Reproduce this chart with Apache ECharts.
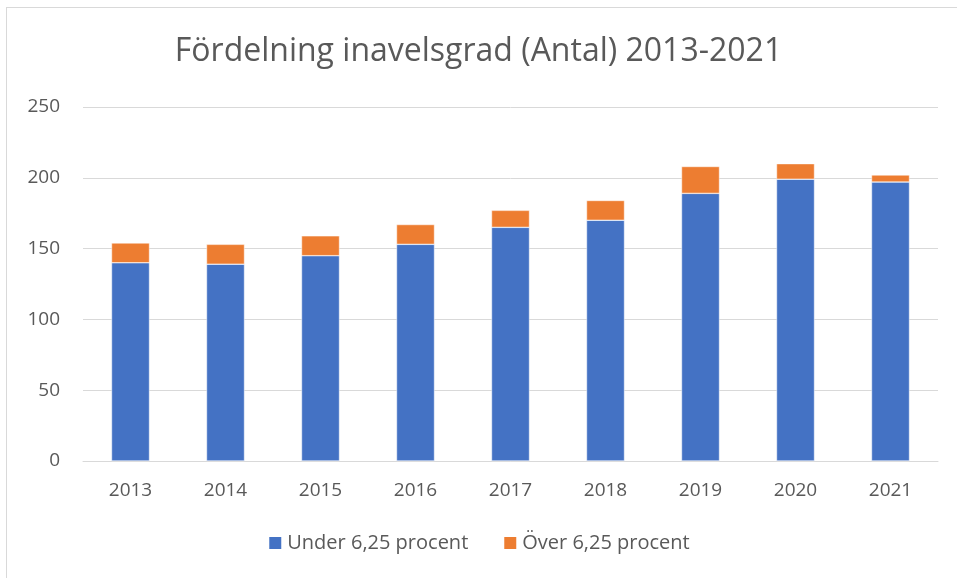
<!DOCTYPE html>
<html>
<head>
<meta charset="utf-8">
<script src="https://cdn.jsdelivr.net/npm/echarts@6/dist/echarts.min.js"></script>
<style>
html,body{margin:0;padding:0;background:#fff;}
#frame{position:absolute;left:6px;top:7px;width:960px;height:580px;border:1px solid #d9d9d9;box-sizing:border-box;}
#main{position:absolute;left:0;top:0;width:957px;height:578px;}
</style>
</head>
<body>
<div id="frame"></div>
<div id="main"></div>
<script>
// data
var years = ['2013','2014','2015','2016','2017','2018','2019','2020','2021'];
var under = [140, 139, 145, 153, 165, 170, 189, 199, 197];
var over = [14, 14, 14, 14, 12, 14, 19, 11, 5];
var yTicks = [0, 50, 100, 150, 200, 250];

var myChart = echarts.init(document.getElementById('main'));
var txt = '#595959';
var font = 'Open Sans';

var option = {
	animation: false,
	title: {
		text: 'Fördelning inavelsgrad (Antal) 2013-2021',
		left: 'center',
		top: 31,
		textStyle: {color: txt, fontFamily: font, fontSize: 32, fontWeight: 'normal'}
	},
	legend: {
		bottom: 20,
		left: 'center',
		itemWidth: 14,
		itemHeight: 14,
		itemGap: 34,
		icon: 'rect',
		textStyle: {color: txt, fontFamily: font, fontSize: 20},
		data: ['Under 6,25 procent', 'Över 6,25 procent']
	},
	grid: {left: 83, right: 19, top: 107, bottom: 117, containLabel: false},
	xAxis: {
		type: 'category',
		data: years,
		axisLine: {lineStyle: {color: '#d9d9d9'}},
		axisTick: {show: false},
		axisLabel: {color: txt, fontFamily: font, fontSize: 19, margin: 20}
	},
	yAxis: {
		type: 'value',
		min: yTicks[0],
		max: yTicks[yTicks.length - 1],
		interval: 50,
		axisLine: {show: false},
		axisTick: {show: false},
		splitLine: {lineStyle: {color: '#d9d9d9'}},
		axisLabel: {color: txt, fontFamily: font, fontSize: 19, margin: 23}
	},
	series: [
		{
			name: 'Under 6,25 procent',
			type: 'bar',
			stack: 'total',
			barWidth: '40%',
			itemStyle: {color: '#4472C4', borderColor: '#fff', borderWidth: 0.5},
			data: under
		},
		{
			name: 'Över 6,25 procent',
			type: 'bar',
			stack: 'total',
			itemStyle: {color: '#ED7D31', borderColor: '#fff', borderWidth: 0.5},
			data: over
		}
	]
};
myChart.setOption(option, true);
</script>
</body>
</html>
